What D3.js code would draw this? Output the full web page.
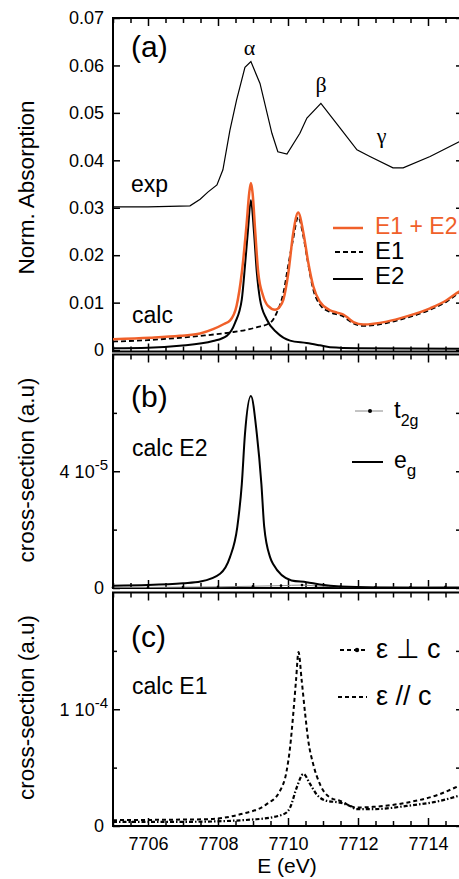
<!DOCTYPE html>
<html>
<head>
<meta charset="utf-8">
<script src="https://cdn.jsdelivr.net/npm/d3@7"></script>
<style>
html, body { margin: 0; padding: 0; background: #fff; overflow: hidden; }
svg { display: block; font-family: "Liberation Sans", Arial, sans-serif; }
</style>
</head>
<body>
<svg id="chart" width="459" height="879"></svg>
<script>
// ---- panel (a): normalized absorption ----
const expE = [7705.0, 7706.0, 7707.2, 7707.49, 7707.71, 7707.97, 7708.14, 7708.34, 7708.53, 7708.77, 7708.94, 7709.2, 7709.54, 7709.71, 7709.97, 7710.34, 7710.54, 7710.94, 7711.49, 7711.97, 7712.34, 7713.0, 7713.29, 7714.06, 7714.89, 7715.0];
const expY = [0.0302, 0.0302, 0.0304, 0.0318, 0.0333, 0.0348, 0.0380, 0.0463, 0.0527, 0.0596, 0.0608, 0.0562, 0.0457, 0.0418, 0.0413, 0.0457, 0.0489, 0.0520, 0.0468, 0.0422, 0.0408, 0.0384, 0.0384, 0.0408, 0.0439, 0.0442];

const sumE = [7705.0, 7706.06, 7706.91, 7707.49, 7707.86, 7708.17, 7708.34, 7708.53, 7708.68, 7708.82, 7708.89, 7708.94, 7708.99, 7709.06, 7709.15, 7709.29, 7709.43, 7709.63, 7709.77, 7709.87, 7710.01, 7710.15, 7710.29, 7710.44, 7710.58, 7710.72, 7710.91, 7711.2, 7711.4, 7711.58, 7711.71, 7711.87, 7712.15, 7712.82, 7713.39, 7714.06, 7714.53, 7714.82, 7715.0];
const sumY = [0.0023, 0.0026, 0.0030, 0.0035, 0.0044, 0.0055, 0.0062, 0.0093, 0.0163, 0.0268, 0.0330, 0.0352, 0.0330, 0.0254, 0.0163, 0.0114, 0.0093, 0.0085, 0.0092, 0.0107, 0.0163, 0.0247, 0.0290, 0.0247, 0.0184, 0.0135, 0.0102, 0.0084, 0.0079, 0.0075, 0.0068, 0.0059, 0.0054, 0.0060, 0.0071, 0.0088, 0.0105, 0.0120, 0.0128];

const e1E = [7705.0, 7706.0, 7706.91, 7707.5, 7708.34, 7708.9, 7709.1, 7709.5, 7709.68, 7709.87, 7710.01, 7710.15, 7710.29, 7710.44, 7710.58, 7710.72, 7710.91, 7711.2, 7711.4, 7711.58, 7711.71, 7711.87, 7712.15, 7712.82, 7713.39, 7714.06, 7714.53, 7714.82, 7715.0];
const e1Y = [0.0018, 0.0021, 0.0026, 0.0030, 0.0037, 0.0044, 0.0048, 0.0058, 0.0079, 0.0121, 0.0180, 0.0235, 0.0281, 0.0239, 0.0180, 0.0128, 0.0096, 0.0080, 0.0075, 0.0071, 0.0064, 0.0056, 0.0051, 0.0057, 0.0068, 0.0085, 0.0102, 0.0117, 0.0125];

const e2E = [7705.0, 7706.0, 7706.9, 7707.86, 7708.25, 7708.49, 7708.68, 7708.77, 7708.85, 7708.94, 7709.03, 7709.11, 7709.2, 7709.39, 7709.68, 7710.06, 7710.53, 7710.91, 7711.2, 7712.0, 7715.0];
const e2Y = [0.0004, 0.0005, 0.0009, 0.0019, 0.0030, 0.0058, 0.0107, 0.0177, 0.0247, 0.0316, 0.0247, 0.0163, 0.0107, 0.0065, 0.0037, 0.0020, 0.0015, 0.0010, 0.0006, 0.0004, 0.0003];

// ---- panel (b): calc E2 ----
const egE = [7705.0, 7706.0, 7707.0, 7707.5, 7708.06, 7708.34, 7708.55, 7708.68, 7708.77, 7708.94, 7709.11, 7709.24, 7709.32, 7709.49, 7709.57, 7710.1, 7710.53, 7710.91, 7711.5, 7712.5, 7715.0];
const egY = [0.8e-6, 1.0e-6, 1.6e-6, 2.2e-6, 4.9e-6, 1.05e-5, 2.08e-5, 3.56e-5, 5.27e-5, 6.58e-5, 5.27e-5, 3.56e-5, 2.1e-5, 1.05e-5, 8.3e-6, 2.6e-6, 2.0e-6, 1.2e-6, 5e-7, 2e-7, 1e-7];

const t2gE = [7705.0, 7706.0, 7707.0, 7708.0, 7709.0, 7709.8, 7710.4, 7710.8, 7711.5, 7712.5, 7713.5, 7714.5, 7715.0];
const t2gY = [2e-7, 2e-7, 3e-7, 4e-7, 6e-7, 8e-7, 1.0e-6, 7e-7, 4e-7, 3e-7, 3e-7, 4e-7, 4e-7];

// ---- panel (c): calc E1 ----
const parE = [7705.0, 7706.0, 7707.0, 7707.68, 7708.63, 7709.39, 7709.77, 7709.96, 7710.06, 7710.15, 7710.23, 7710.30, 7710.39, 7710.49, 7710.58, 7710.72, 7710.91, 7711.2, 7711.49, 7711.96, 7712.43, 7713.39, 7714.34, 7714.89, 7715.0];
const parY = [5.0e-6, 5.2e-6, 5.5e-6, 5.8e-6, 1.0e-5, 1.87e-5, 3.0e-5, 4.7e-5, 6.75e-5, 9.6e-5, 1.25e-4, 1.49e-4, 1.25e-4, 9.6e-5, 7.3e-5, 5.3e-5, 3.6e-5, 2.44e-5, 2.15e-5, 1.58e-5, 1.64e-5, 2.0e-5, 2.73e-5, 3.45e-5, 3.6e-5];

const perpE = [7705.0, 7707.2, 7709.1, 7709.87, 7710.06, 7710.25, 7710.44, 7710.63, 7710.82, 7711.11, 7711.49, 7711.77, 7711.96, 7712.43, 7713.39, 7714.34, 7714.89, 7715.0];
const perpY = [3.5e-6, 3.6e-6, 5.8e-6, 1.0e-5, 1.58e-5, 3.3e-5, 4.46e-5, 3.6e-5, 2.7e-5, 2.15e-5, 2.0e-5, 1.72e-5, 1.44e-5, 1.44e-5, 1.72e-5, 2.15e-5, 2.6e-5, 2.7e-5];

// ticks
const xMajor = [7706, 7708, 7710, 7712, 7714];
const xLabels = ["7706", "7708", "7710", "7712", "7714"];
const xMinor = d3.range(7705, 7715.01, 0.5).filter(v => !xMajor.includes(v));

const aTicks = [0, 0.01, 0.02, 0.03, 0.04, 0.05, 0.06, 0.07];
const aLabels = ["0", "0.01", "0.02", "0.03", "0.04", "0.05", "0.06", "0.07"];
const bTicks = [0, 4e-5];
const bLabels = ["0", "4 10^-5"];
const bMinor = [2e-5, 6e-5];
const cTicks = [0, 1e-4];
const cLabels = ["0", "1 10^-4"];
const cMinor = [5e-5, 1.5e-4];

const orange = "#f0602a";
const svg = d3.select("#chart");

const x = d3.scaleLinear().domain([7705, 7715]).range([113, 463]);

const panels = [
    { top: 18, bottom: 351.5, domain: [-0.0003, 0.07], ticks: aTicks, labels: aLabels, minor: [] },
    { top: 354.5, bottom: 588, domain: [0, 8e-5], ticks: bTicks, labels: bLabels, minor: bMinor },
    { top: 592.5, bottom: 826, domain: [0, 2e-4], ticks: cTicks, labels: cLabels, minor: cMinor }
];

panels.forEach((p, i) => {
    p.y = d3.scaleLinear().domain(p.domain).range([p.bottom, p.top]);
    const g = svg.append("g");

    // frame
    g.append("rect")
        .attr("x", x(7705)).attr("y", p.top)
        .attr("width", x(7715) - x(7705)).attr("height", p.bottom - p.top)
        .attr("fill", "none").attr("stroke", "#000").attr("stroke-width", 2);

    const styleAxis = sel => {
        sel.select(".domain").remove();
        sel.selectAll(".tick line").attr("stroke-width", 1.5);
        sel.selectAll("text").attr("font-size", 18).attr("font-family", "Liberation Sans, Arial, sans-serif").attr("fill", "#000");
    };

    // x axes top and bottom
    const last = i === panels.length - 1;
    g.append("g").attr("transform", `translate(0,${p.bottom})`)
        .call(d3.axisBottom(x).tickValues(xMajor).tickSize(-8).tickPadding(11)
            .tickFormat((d, k) => last ? xLabels[k] : ""))
        .call(styleAxis);
    g.append("g").attr("transform", `translate(0,${p.bottom})`)
        .call(d3.axisBottom(x).tickValues(xMinor).tickSize(-5).tickFormat(""))
        .call(styleAxis);
    g.append("g").attr("transform", `translate(0,${p.top})`)
        .call(d3.axisTop(x).tickValues(xMajor).tickSize(-8).tickFormat(""))
        .call(styleAxis);
    g.append("g").attr("transform", `translate(0,${p.top})`)
        .call(d3.axisTop(x).tickValues(xMinor).tickSize(-5).tickFormat(""))
        .call(styleAxis);

    // y axes left and right
    const left = g.append("g").attr("transform", `translate(${x(7705)},0)`)
        .call(d3.axisLeft(p.y).tickValues(p.ticks).tickSize(-7).tickPadding(9)
            .tickFormat((d, k) => p.labels[k]))
        .call(styleAxis);
    left.selectAll(".tick text").each(function (d, k) {
        const parts = p.labels[k].split("^");
        if (parts.length > 1) {
            const t = d3.select(this).text("").attr("dx", 4);
            t.append("tspan").text(parts[0]);
            t.append("tspan").attr("font-size", 15).attr("dy", -8).text(parts[1]);
        }
    });
    g.append("g").attr("transform", `translate(${x(7705)},0)`)
        .call(d3.axisLeft(p.y).tickValues(p.minor).tickSize(-4).tickFormat(""))
        .call(styleAxis);
    g.append("g").attr("transform", `translate(${x(7715)},0)`)
        .call(d3.axisRight(p.y).tickValues(p.ticks.concat(p.minor)).tickSize(-7).tickFormat(""))
        .call(styleAxis);
});

function curve(yScale, es, vs, c) {
    return d3.line().x(d => x(d[0])).y(d => yScale(d[1])).curve(c)(es.map((e, k) => [e, vs[k]]));
}

// panel (a) curves
const ya = panels[0].y;
svg.append("path").attr("d", curve(ya, expE, expY, d3.curveLinear))
    .attr("fill", "none").attr("stroke", "#000").attr("stroke-width", 1.2);
svg.append("path").attr("d", curve(ya, e2E, e2Y, d3.curveMonotoneX))
    .attr("fill", "none").attr("stroke", "#000").attr("stroke-width", 2);
svg.append("path").attr("d", curve(ya, e1E, e1Y, d3.curveMonotoneX))
    .attr("fill", "none").attr("stroke", "#000").attr("stroke-width", 1.8).attr("stroke-dasharray", "5,3");
svg.append("path").attr("d", curve(ya, sumE, sumY, d3.curveMonotoneX))
    .attr("fill", "none").attr("stroke", orange).attr("stroke-width", 2.5);

// panel (b) curves
const yb = panels[1].y;
svg.append("path").attr("d", curve(yb, t2gE, t2gY, d3.curveMonotoneX))
    .attr("fill", "none").attr("stroke", "#888").attr("stroke-width", 1);
svg.selectAll(".t2g").data(t2gE).join("circle").attr("class", "t2g")
    .attr("cx", d => x(d)).attr("cy", (d, k) => yb(t2gY[k])).attr("r", 1.3).attr("fill", "#000");
svg.append("path").attr("d", curve(yb, egE, egY, d3.curveMonotoneX))
    .attr("fill", "none").attr("stroke", "#000").attr("stroke-width", 2);

// panel (c) curves
const yc = panels[2].y;
svg.append("path").attr("d", curve(yc, parE, parY, d3.curveMonotoneX))
    .attr("fill", "none").attr("stroke", "#000").attr("stroke-width", 2).attr("stroke-dasharray", "4,3");
svg.append("path").attr("d", curve(yc, perpE, perpY, d3.curveMonotoneX))
    .attr("fill", "none").attr("stroke", "#000").attr("stroke-width", 2.2).attr("stroke-dasharray", "4,2,1.5,2");

// text
function txt(xp, yp, s, size, opts = {}) {
    const t = svg.append("text").attr("x", xp).attr("y", yp).attr("font-size", size)
        .attr("fill", opts.fill || "#000").text(s);
    if (opts.family) t.attr("font-family", opts.family);
    if (opts.anchor) t.attr("text-anchor", opts.anchor);
    return t;
}
const serif = "Liberation Serif, Times New Roman, serif";

txt(131, 57, "(a)", 30);
txt(131, 192, "exp", 23);
txt(132, 323, "calc", 23);
txt(249.5, 55, "α", 22, { family: serif, anchor: "middle" });
txt(321, 92, "β", 22, { family: serif, anchor: "middle" });
txt(381.5, 143, "γ", 22, { family: serif, anchor: "middle" });

txt(131, 407, "(b)", 30);
txt(132, 456, "calc E2", 23);
txt(131, 647, "(c)", 30);
txt(132, 694, "calc E1", 23);

// y labels
[["Norm. Absorption", 187.5], ["cross-section (a.u)", 470], ["cross-section (a.u)", 707.5]].forEach(([s, cy]) => {
    svg.append("text").attr("transform", `translate(34,${cy}) rotate(-90)`)
        .attr("text-anchor", "middle").attr("font-size", 22.5).text(s);
});
txt(287, 873, "E (eV)", 21, { anchor: "middle" });

// legend (a)
svg.append("line").attr("x1", 333).attr("x2", 363).attr("y1", 228).attr("y2", 228)
    .attr("stroke", orange).attr("stroke-width", 2.5);
txt(375, 234, "E1 + E2", 23, { fill: orange });
svg.append("line").attr("x1", 335).attr("x2", 363).attr("y1", 252).attr("y2", 252)
    .attr("stroke", "#000").attr("stroke-width", 1.8).attr("stroke-dasharray", "5,3");
txt(375, 259, "E1", 24);
svg.append("line").attr("x1", 333).attr("x2", 363).attr("y1", 279).attr("y2", 279)
    .attr("stroke", "#000").attr("stroke-width", 2);
txt(375, 284, "E2", 24);

// legend (b)
svg.append("line").attr("x1", 355).attr("x2", 383).attr("y1", 411).attr("y2", 411)
    .attr("stroke", "#888").attr("stroke-width", 1);
svg.append("circle").attr("cx", 370).attr("cy", 411).attr("r", 2).attr("fill", "#000");
const tl = txt(394, 418, "t", 24);
tl.append("tspan").attr("font-size", 16).attr("dy", 8).text("2g");
svg.append("line").attr("x1", 352).attr("x2", 383).attr("y1", 462).attr("y2", 462)
    .attr("stroke", "#000").attr("stroke-width", 2);
const el = txt(394, 468, "e", 23);
el.append("tspan").attr("font-size", 17).attr("dy", 8).text("g");

// legend (c)
svg.append("line").attr("x1", 340).attr("x2", 367).attr("y1", 650).attr("y2", 650)
    .attr("stroke", "#000").attr("stroke-width", 2).attr("stroke-dasharray", "4,3");
svg.append("circle").attr("cx", 357).attr("cy", 650).attr("r", 2.2).attr("fill", "#000");
txt(376, 658, "ε ⊥ c", 27);
svg.append("line").attr("x1", 338).attr("x2", 367).attr("y1", 697).attr("y2", 697)
    .attr("stroke", "#000").attr("stroke-width", 2).attr("stroke-dasharray", "4,3");
txt(376, 705, "ε // c", 27);
</script>
</body>
</html>
